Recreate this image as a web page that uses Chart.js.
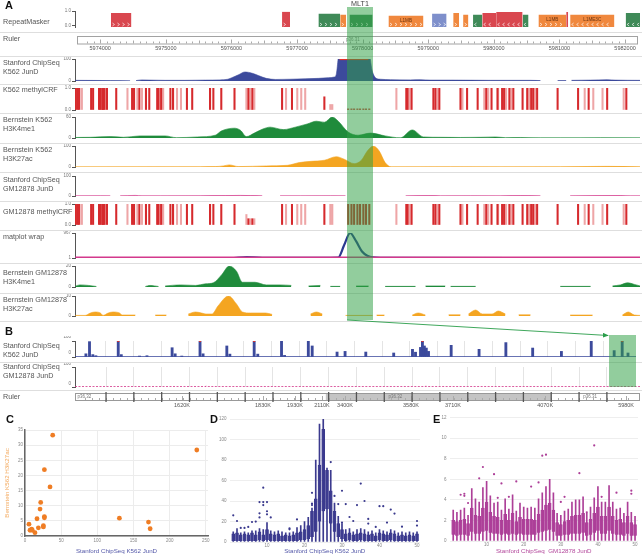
<!DOCTYPE html>
<html lang="en">
<head>
<meta charset="UTF-8">
<meta name="viewport" content="width=device-width, initial-scale=1.0">
<title>JunD and histone tracks around MLT1</title>
<script src="https://cdn.jsdelivr.net/npm/chart.js"></script>
<style>
  body { margin: 0; background: #fff; }
  #fig { position: relative; width: 642px; height: 556px; overflow: hidden; background: #fff;
         font-family: "Liberation Sans", Arial, Helvetica, sans-serif; }
  #fig > div { position: absolute; }
  .name { left: 3px; font-size: 7.2px; line-height: 9px; color: #555; white-space: nowrap; }
  .panel { font-size: 11px; line-height: 11px; font-weight: bold; color: #111; }
  .sep { left: 0; width: 642px; height: 1px; background: #dedede; }
</style>
</head>
<body>
<div id="fig"></div>

<script>
// ---------- panel A : chr1 window around the MLT1 repeat ----------
const regionA = [5973646, 5982197];
const mlt1 = [5977763, 5978156];
const mlt1Name = 'MLT1';
const rulerALabels = [5974000, 5975000, 5976000, 5977000, 5978000, 5979000, 5980000, 5981000, 5982000];
const aBandName = 'p36.31';
const aBandLabelAt = 5977850;

// RepeatMasker elements
const rmStart = [5974190, 5976780, 5977330, 5977660, 5977800, 5978390, 5979050, 5979370, 5979520, 5979670, 5979810, 5980020, 5980420, 5980660, 5981080, 5981140, 5981980];
const rmEnd   = [5974500, 5976900, 5977660, 5977750, 5978150, 5978920, 5979270, 5979460, 5979600, 5979810, 5980020, 5980420, 5980510, 5981080, 5981110, 5981810, 5982200];
const rmScore = [0.87, 0.94, 0.81, 0.74, 0.74, 0.68, 0.81, 0.87, 0.74, 0.74, 0.87, 0.94, 0.74, 0.74, 0.94, 0.74, 0.87];
const rmClass = ['SINE', 'SINE', 'LTR', 'LINE', 'LTR', 'LINE', 'DNA', 'LINE', 'LINE', 'LTR', 'SINE', 'SINE', 'LTR', 'LINE', 'SINE', 'LINE', 'LTR'];
const rmStrand = ['+', '+', '+', '+', '+', '+', '+', '+', '+', '-', '-', '-', '-', '+', '-', '-', '-'];
const rmLabel = ['', '', '', '', '', 'L1MB', '', '', '', '', '', '', '', 'L1MB', '', 'L1ME3C', ''];

// Stanford ChipSeq K562 JunD (values above 100 are clipped by the browser)
const k562JundPos = [5973650, 5974180, 5974480, 5974530, 5974570, 5974660, 5974780, 5975010, 5975310, 5975620, 5975840, 5975960, 5976020, 5976120, 5976220, 5976330, 5976420, 5976540, 5976680, 5976900, 5977130, 5977330, 5977480, 5977570, 5977600, 5977650, 5978085, 5978145, 5978205, 5978265, 5978420, 5978720, 5978870, 5979020, 5979330, 5979930, 5980540, 5980690, 5980700, 5980950, 5981080, 5981100, 5981160, 5981450, 5981700, 5981820, 5982200];
const k562JundVal = [3, 2, 1, null, 2, 5, 4, 3, 3, 4, 5, 8, 15, 28, 41, 35, 25, 12, 7, 8, 10, 12, 15, 18, 30, 140, 140, 45, 12, 8, 6, 5, 6, 4, 4, 3, 3, 2, null, 2, 2, null, 3, 4, 6, 4, 3];

// methylCRF CpG calls (same CpG sites in both cell lines)
const methylPos = [5973660, 5973670, 5973690, 5973710, 5973750, 5973890, 5973920, 5974010, 5974030, 5974040, 5974060, 5974070, 5974090, 5974100, 5974130, 5974270, 5974440, 5974510, 5974530, 5974540, 5974590, 5974620, 5974660, 5974720, 5974770, 5974890, 5974910, 5974940, 5974950, 5974980, 5975090, 5975130, 5975190, 5975250, 5975340, 5975420, 5975690, 5975740, 5975860, 5976060, 5976240, 5976270, 5976300, 5976330, 5976360, 5976780, 5976840, 5976930, 5977010, 5977070, 5977130, 5977420, 5977510, 5977540, 5977780, 5977830, 5977870, 5977920, 5977960, 5978010, 5978050, 5978100, 5978510, 5978660, 5978680, 5978710, 5978740, 5979070, 5979100, 5979130, 5979160, 5979480, 5979510, 5979580, 5979740, 5979840, 5979870, 5979900, 5979950, 5980040, 5980050, 5980110, 5980140, 5980170, 5980220, 5980250, 5980280, 5980420, 5980490, 5980520, 5980550, 5980580, 5980610, 5980640, 5980950, 5981260, 5981360, 5981420, 5981490, 5981630, 5981700, 5981950, 5981990];
const k562MethylVal = [1, 1, 1, 1, 1, 1, 1, 1, 1, 1, 1, 1, 1, 1, 1, 1, 1, 1, 1, 1, 1, 1, 1, 1, 1, 1, 1, 1, 1, 1, 1, 1, 1, 1, 1, 1, 1, 1, 1, 1, 1, 1, 1, 1, 1, 1, 1, 1, 1, 1, 1, 0.6, 0.25, 0.25, 0.05, 0.05, 0.05, 0.05, 0.05, 0.05, 0.05, 0.05, 1, 1, 1, 1, 1, 1, 1, 1, 1, 1, 1, 1, 1, 1, 1, 1, 1, 1, 1, 1, 1, 1, 1, 1, 1, 1, 1, 1, 1, 1, 1, 1, 1, 1, 1, 1, 1, 1, 1, 1, 1];
const gmMethylVal   = [1, 1, 1, 1, 1, 1, 1, 1, 1, 1, 1, 1, 1, 1, 1, 1, 1, 1, 1, 1, 1, 1, 1, 1, 1, 1, 1, 1, 1, 1, 1, 1, 1, 1, 1, 1, 1, 1, 1, 1, 0.5, 0.3, 0.3, 0.3, 0.3, 1, 1, 1, 1, 1, 1, 1, 1, 1, 1, 1, 1, 1, 1, 1, 1, 1, 1, 1, 1, 1, 1, 1, 1, 1, 1, 1, 1, 1, 1, 1, 1, 1, 1, 1, 1, 1, 1, 1, 1, 1, 1, 1, 1, 1, 1, 1, 1, 1, 1, 1, 1, 1, 1, 1, 1, 1, 1];

// Bernstein K562 H3K4me1
const k562K4Pos = [5973650, 5973880, 5974180, 5974380, 5974630, 5975010, 5975180, 5975500, 5975770, 5975860, 5976060, 5976150, 5976240, 5976360, 5976480, 5976600, 5976800, 5976980, 5977160, 5977300, 5977420, 5977540, 5977630, 5977780, 5977930, 5978120, 5978340, 5978570, 5978750, 5978920, 5979180, 5979480, 5979780, 5980010, 5980160, 5980390, 5980690, 5980990, 5981290, 5981600, 5982200];
const k562K4Val = [1.5, 2, 4, 2, 6, 6, 1, 3, 8, 20, 28, 22, 4, 14, 25, 31, 24, 31, 40, 48, 45, 60, 48, 17, 8, 14, 6, 0.5, 23, 3, 2, 1.5, 2, 3, 1, 1.5, 0.5, 0.5, 0.5, 1, 0.5];

// Bernstein K562 H3K27ac
const k562K27Pos = [5973650, 5975540, 5975770, 5975890, 5975980, 5976120, 5976540, 5976860, 5977040, 5977220, 5977420, 5977600, 5977720, 5977870, 5977980, 5978070, 5978160, 5978250, 5978340, 5978430, 5979330, 5980080, 5980990, 5981700, 5982200];
const k562K27Val = [1, 1.5, 2, 5, 10, 2, 5, 8, 21, 27, 32, 49, 37, 16, 32, 76, 100, 76, 21, 1, 1.5, 1, 1.5, 3, 1.5];

// Stanford ChipSeq GM12878 JunD
const gmJundPos = [5973650, 5974030, 5974180, 5974210, 5974330, 5974560, 5974660, 5974940, 5975540, 5975920, 5976150, 5976300, 5976480, 5976600, 5976750, 5977060, 5977510, 5977740, 5978570, 5978650, 5979020, 5979180, 5979630, 5980080, 5980390, 5980690, 5980990, 5981140, 5981900, 5982050, 5982200];
const gmJundVal = [1, 1.5, 1, null, 1, 3, 1, 1, 1.5, 2, 3, 2, 1, null, 1, 1, 1.5, 1, null, 1, 2, 1, 1.5, 1, 2, 1, null, 1, 2.5, 1, 1];

// matplot wrap: K562 JunD vs GM12878 JunD
const wrapK562Pos = [5973650, 5976000, 5976240, 5976480, 5977360, 5977630, 5977720, 5977810, 5977900, 5977990, 5978070, 5978160, 5978420, 5982200];
const wrapK562Val = [1, 1, 40, 5, 10, 20, 500, 967, 650, 250, 90, 30, 5, 1];
const wrapGmPos = [5973650, 5982200];
const wrapGmVal = [1, 1];

// Bernstein GM12878 H3K4me1
const gmK4Pos = [5973650, 5973720, 5973850, 5973970, 5974030, 5974710, 5974780, 5974910, 5974970, 5975010, 5975240, 5975470, 5975620, 5975740, 5975870, 5975980, 5976090, 5976180, 5976370, 5976540, 5976750, 5976920, 5976950, 5977180, 5977360, 5977390, 5977510, 5977660, 5977690, 5977900, 5978090, 5978120, 5978340, 5978800, 5978830, 5978950, 5979250, 5979280, 5979330, 5979710, 5979740, 5980990, 5981450, 5981480, 5981780, 5981900, 5982010, 5982110, 5982200];
const gmK4Val = [0.8, 2, 1.5, 0.5, null, 0.5, 1.5, 0.5, null, 1, 2, 1.5, 3, 4, 12, 20, 15, 4.5, 4.5, 2, 2, 1.5, null, 1, 1.5, null, 0.6, 0.6, null, 1, 1, null, 0.6, 0.6, null, 1, 1, null, 0.6, 0.6, null, 0.6, 0.6, null, 1, 2, 4, 2.5, 1];

// Bernstein GM12878 H3K27ac
const gmK27Pos = [5973650, 5973800, 5973880, 5973950, 5974030, 5974070, 5974150, 5974220, 5974320, 5974360, 5974560, 5974590, 5974860, 5975030, 5975060, 5975360, 5975470, 5975560, 5975630, 5975720, 5975810, 5975970, 5976090, 5976180, 5976300, 5976530, 5976630, 5976660, 5977210, 5977300, 5977390, 5977450, 5977740, 5978150, 5978180, 5978210, 5978330, 5978360, 5978750, 5978840, 5978950, 5978980, 5979300, 5979480, 5979510, 5979600, 5979710, 5979810, 5979960, 5980050, 5980160, 5980190, 5980360, 5980540, 5980570, 5981140, 5981480, 5981510, 5981930, 5982020, 5982110, 5982200];
const gmK27Val = [0.3, 0.3, 1.5, 2, 1.5, 0.3, 1.5, 2, 1.5, 0.5, 0.5, null, 0.5, 0.5, null, 1, 2, 1.5, 1, 1, 5, 10, 6, 2, 1.5, 1.5, 0.8, null, 1, 2, 1, null, 0.3, 0.3, null, 0.5, 0.5, null, 0.5, 1.5, 0.5, null, 0.6, 0.6, null, 1, 3, 1, 1, 2.5, 1, null, 0.6, 0.6, null, 0.5, 0.5, null, 0.5, 2, 0.5, 0.3];

// ---------- panel B : 20 concatenated JunD peak regions ----------
const regionB = [-0.115, 20.19];
const bBounds = [1, 2, 3, 4, 5, 6, 7, 8, 9, 10, 11, 12, 13, 14, 15, 16, 17, 18, 19];
const bHighlight = [19.22, 20.19];
const bK562Pos = [0.28, 0.41, 0.53, 0.64, 1.45, 1.56, 2.22, 2.49, 3.40, 3.51, 3.75, 4.41, 4.52, 5.38, 5.49, 6.37, 6.50, 7.36, 7.47, 8.33, 8.47, 9.37, 9.66, 10.41, 11.42, 12.10, 12.21, 12.39, 12.46, 12.53, 12.60, 12.68, 13.50, 14.51, 15.48, 16.45, 17.49, 18.57, 19.40, 19.69, 19.90];
const bK562Val = [20, 96, 15, 8, 130, 15, 6, 8, 58, 20, 6, 130, 20, 69, 18, 130, 18, 99, 10, 100, 69, 31, 35, 31, 25, 48, 30, 60, 130, 69, 56, 35, 73, 48, 90, 56, 35, 99, 40, 130, 25];
const bK562BasePos = [-0.115, 20.19];
const bK562BaseVal = [2.5, 2.5];
const bGmPos = [-0.115, 4.55, 4.6, 4.65, 12.45, 12.5, 12.55, 19.55, 19.6, 19.65, 20.19];
const bGmVal = [1.5, 1.5, 4, 1.5, 1.5, 4, 1.5, 1.5, 3, 1.5, 1.5];
const bRulerPos  = [3.73, 6.64, 7.79, 8.76, 9.59, 11.96, 13.47, 16.78, 19.69];
const bRulerText = ['1620K', '1830K', '1930K', '2110K', '3400K', '3580K', '3710K', '4070K', '5980K'];
const bBandStart = [-0.115, 8.9, 17.0];
const bBandEnd   = [8.9, 17.0, 20.19];
const bBandName  = ['p36.32', 'p36.32', 'p36.31'];
const bBandStain = ['gneg', 'gpos25', 'gneg'];
const bBandLabelAt = [0.22, 11.4, 18.4];

// ---------- panel C : K562 JunD vs K562 H3K27ac ----------
const cX = [38.3, 237.5, 26.8, 34.6, 21.7, 20.8, 26.8, 26.8, 16.6, 130.5, 170.7, 173, 5.5, 25.4, 25.4, 18.5, 9.2, 6.9, 10.1, 13.8];
const cY = [33.3, 28.4, 21.9, 16.2, 11.1, 8.9, 6.4, 6.0, 5.7, 5.9, 4.6, 2.4, 3.9, 3.4, 3.0, 2.7, 2.3, 1.9, 1.9, 1.1];
const cXTicks = [0, 50, 100, 150, 200, 250];
const cYTicks = [0, 5, 10, 15, 20, 25, 30, 35];

// ---------- panels D and E : binned box plots ----------
const bins = [1, 2, 3, 4, 5, 6, 7, 8, 9, 10, 11, 12, 13, 14, 15, 16, 17, 18, 19, 20, 21, 22, 23, 24, 25, 26, 27, 28, 29, 30, 31, 32, 33, 34, 35, 36, 37, 38, 39, 40, 41, 42, 43, 44, 45, 46, 47, 48, 49, 50];
const binTicks = [10, 20, 30, 40, 50];
const dYTicks = [0, 20, 40, 60, 80, 100, 120];
const dQ1 = [1, 1, 1, 1, 1, 1, 1, 2, 1, 2, 1, 1, 1, 1, 1, 1, 1, 1, 2, 2, 3, 5, 10, 20, 30, 32, 18, 10, 5, 3, 1, 2, 1, 1, 2, 1, 1, 1, 1, 2, 1, 1, 2, 1, 1, 1, 1, 1, 1, 1];
const dQ3 = [8, 9, 7, 8, 7, 9, 7, 10, 7, 12, 8, 7, 8, 6, 7, 6, 7, 9, 10, 12, 16, 30, 42, 75, 110, 70, 50, 30, 18, 12, 8, 9, 7, 8, 9, 8, 7, 8, 6, 9, 8, 7, 9, 8, 6, 7, 6, 7, 6, 8];
const dHi = [10, 13, 9, 10, 9, 11, 11, 13, 12, 19, 11, 10, 11, 10, 9, 9, 10, 14, 16, 20, 24, 33, 80, 115, 120, 72, 70, 38, 25, 18, 12, 13, 10, 12, 13, 12, 10, 11, 9, 12, 11, 10, 12, 11, 9, 10, 9, 10, 9, 10];
const dOutX = [1, 2, 3, 4, 5, 6, 7, 8, 8, 8, 9, 9, 9, 10, 10, 10, 11, 16, 16, 18, 22, 22, 22, 27, 28, 29, 30, 30, 31, 32, 33, 34, 35, 36, 37, 37, 39, 40, 41, 42, 43, 44, 46, 50, 50];
const dOutY = [26, 20.5, 13.7, 13.7, 14.7, 19.5, 19.9, 28, 24, 39, 53, 39, 36, 39, 30, 27, 24, 13.4, 12.4, 22, 48, 37.5, 36, 78, 45, 37, 50, 19, 37, 24.4, 20.5, 36, 57, 40, 22.5, 18, 14.7, 35, 35, 19, 31.6, 27.7, 15, 20.5, 16];
const eYTicks = [0, 2, 4, 6, 8, 10, 12];
const eQ1 = [0.6, 0.5, 0.6, 0.6, 0.5, 0.9, 0.7, 0.7, 0.9, 1.0, 0.8, 0.7, 0.7, 0.6, 0.7, 0.6, 0.7, 0.6, 0.7, 0.6, 0.6, 0.6, 0.6, 0.8, 0.9, 1.0, 1.1, 0.9, 0.5, 0.5, 0.6, 0.6, 0.7, 0.7, 0.7, 0.8, 0.5, 0.6, 0.8, 1.0, 0.7, 0.7, 1.0, 0.7, 0.6, 0.6, 0.5, 0.7, 0.5, 0.5];
const eQ3 = [2.0, 1.9, 2.0, 2.1, 1.7, 3.2, 2.5, 2.4, 3.2, 3.8, 2.8, 2.4, 2.3, 2.0, 2.6, 2.0, 2.7, 1.9, 2.3, 2.1, 2.1, 2.1, 2.0, 2.6, 3.0, 3.5, 3.7, 3.0, 1.8, 1.6, 1.9, 2.0, 2.4, 2.5, 2.5, 2.7, 1.8, 2.1, 2.7, 3.3, 2.4, 2.4, 3.3, 2.4, 2.0, 2.1, 1.8, 2.4, 1.8, 1.6];
const eHi = [3.0, 2.8, 3.0, 3.2, 2.5, 5.1, 4.1, 3.8, 5.2, 5.8, 4.4, 3.7, 3.8, 3.0, 4.1, 3.1, 4.5, 2.9, 3.7, 3.3, 3.2, 3.3, 3.2, 4.1, 4.7, 5.3, 6.0, 4.7, 2.7, 2.5, 2.9, 3.1, 3.8, 4.0, 4.0, 4.3, 2.7, 3.3, 4.2, 5.3, 3.8, 3.8, 5.4, 3.8, 3.1, 3.2, 2.7, 3.8, 2.8, 2.4];
const eOutX = [3, 4, 4, 5, 8, 9, 12, 13, 14, 16, 18, 22, 24, 25, 26, 30, 31, 35, 37, 39, 41, 45, 49, 49];
const eOutY = [4.5, 4.6, 4.4, 3.7, 6.1, 7.2, 6.5, 4.2, 5.6, 4.3, 5.8, 5.3, 5.7, 8.3, 8.4, 3.8, 4.3, 6.6, 2.8, 9.3, 4.3, 4.7, 4.9, 4.6];

// track names
const namesA = [['RepeatMasker'], ['Ruler'], ['Stanford ChipSeq', 'K562 JunD'], ['K562 methylCRF'], ['Bernstein K562', 'H3K4me1'], ['Bernstein K562', 'H3K27ac'], ['Stanford ChipSeq', 'GM12878 JunD'], ['GM12878 methylCRF'], ['matplot wrap'], ['Bernstein GM12878', 'H3K4me1'], ['Bernstein GM12878', 'H3K27ac']];
const namesB = [['Stanford ChipSeq', 'K562 JunD'], ['Stanford ChipSeq', 'GM12878 JunD'], ['Ruler']];

// ---------- styles / layout ----------
const colJundK = '#3c4a9c', colJundGm = '#d3398c', colK4 = '#1f8b3b', colK27 = '#f4a521';
const colMethyl = '#d62a2d', colMethylLight = 'rgba(214,42,45,0.42)', colClip = '#e3312b';
const rmColors = { SINE: '#d9474f', LTR: '#3f8a58', LINE: '#f0883e', DNA: '#7e8fcb' };
const stainColors = { gneg: '#ffffff', gpos25: '#c4c4c4' };
const methylShade = [1, 0, 1, 1, 0, 1, 1, 1, 1, 0, 1, 1, 1, 0, 1, 1, 0, 1, 0, 1, 0, 1, 0, 1, 1, 1, 1, 0, 1, 0, 1, 1, 0, 0, 1, 1, 1, 1, 1, 1, 0, 1, 0, 1, 0, 1, 0, 1, 0, 0, 0, 1, 0, 0, 1, 1, 1, 1, 1, 1, 1, 1, 0, 1, 1, 0, 1, 1, 1, 0, 1, 1, 0, 1, 1, 0, 1, 0, 1, 1, 0, 1, 1, 0, 1, 0, 1, 1, 1, 0, 1, 1, 0, 1, 1, 1, 0, 1, 0, 0, 1, 0, 1];
const greenHi = 'rgba(46,160,67,0.52)';
const TRACK_X = 45, AXIS_W = 30, PAD = 5;
const rowsA = { rm: [11, 27], jund: [59, 81], methyl: [88, 110], k4: [117, 138], k27: [146, 167],
                gmJund: [176, 196], gmMethyl: [204, 225], wrap: [233, 258], gmK4: [266, 287], gmK27: [296, 316] };
const rowsB = { k562: [341, 357], gm: [367, 387] };
const nameTopsA = [16.5, 33.5, 57.5, 84.5, 114.5, 144.5, 174.5, 206.5, 231.5, 267.5, 294.5];
const nameTopsB = [340.5, 361.5, 391.5];
const sepRows = [32, 56, 84, 113, 143, 172, 201, 230, 263, 293, 321, 362, 390];

Chart.defaults.font.family = '"Liberation Sans", Arial, Helvetica, sans-serif';
Chart.defaults.color = '#777';

const fig = document.getElementById('fig');

function addDiv(cls, left, top, html) {
  const d = document.createElement('div');
  d.className = cls;
  d.style.left = left + 'px';
  d.style.top = top + 'px';
  d.innerHTML = html;
  fig.appendChild(d);
  return d;
}

function addCanvas(left, top, w, h) {
  const d = document.createElement('div');
  d.style.cssText = `left:${left}px;top:${top}px;width:${w}px;height:${h}px`;
  const c = document.createElement('canvas');
  c.width = w; c.height = h;
  c.style.width = w + 'px'; c.style.height = h + 'px';
  d.appendChild(c);
  fig.appendChild(d);
  return c;
}

function pairs(xs, ys) { return xs.map((x, i) => ({ x: x, y: ys[i] })); }

function area(xs, ys, color) {
  return { data: pairs(xs, ys), borderColor: color, backgroundColor: color, borderWidth: 0.6, pointRadius: 0,
           fill: 'origin', cubicInterpolationMode: 'monotone', spanGaps: false };
}
function trace(xs, ys, color, width, order) {
  return { data: pairs(xs, ys), borderColor: color, borderWidth: width, pointRadius: 0, fill: false,
           cubicInterpolationMode: 'monotone', spanGaps: false, order: order || 0 };
}
function sticks(xs, ys, colors, thickness) {
  return { type: 'bar', data: pairs(xs, ys), backgroundColor: colors, barThickness: thickness, grouped: false, borderWidth: 0 };
}

const xA = () => ({ type: 'linear', min: regionA[0], max: regionA[1], offset: false, display: false });
const xB = () => ({
  type: 'linear', min: regionB[0], max: regionB[1], offset: false, display: true,
  border: { display: false }, grid: { color: '#e4e4e4', drawTicks: false, offset: false }, ticks: { display: false },
  afterBuildTicks: s => { s.ticks = bBounds.map(v => ({ value: v })); },
  afterFit: s => { s.height = 0; }
});

function track(rows, xScale, yMin, yMax, yTicks, yText, datasets, more) {
  more = more || {};
  const cv = addCanvas(TRACK_X, rows[0] - PAD, 640 - TRACK_X, rows[1] - rows[0] + 2 * PAD);
  return new Chart(cv, {
    type: 'line',
    data: { datasets: datasets },
    options: {
      responsive: false, animation: false, events: [],
      layout: { padding: { top: PAD, bottom: PAD, left: 0, right: 0 } },
      plugins: { legend: { display: false }, tooltip: { enabled: false } },
      scales: {
        x: xScale,
        y: {
          type: 'linear', min: yMin, max: yMax,
          border: { display: true, color: '#555', width: 1 },
          grid: { drawOnChartArea: false, drawTicks: true, tickLength: 3, color: '#555' },
          ticks: { font: { size: 4.5 }, color: '#777', padding: 1, labelOffset: more.labelOffset || 0,
                   callback: (v, i) => yText[i] },
          afterBuildTicks: s => { s.ticks = yTicks.map(v => ({ value: v })); },
          afterFit: s => { s.width = AXIS_W; }
        }
      }
    },
    plugins: more.plugins || []
  });
}

// RepeatMasker strand chevrons and names
const rmMarks = {
  id: 'rmMarks',
  afterDatasetsDraw(chart) {
    const { ctx, scales: { x, y } } = chart;
    const yb = y.getPixelForValue(y.min);
    ctx.save();
    rmStart.forEach((s, i) => {
      const x0 = x.getPixelForValue(s), x1 = x.getPixelForValue(rmEnd[i]);
      const dir = rmStrand[i] === '+' ? 1 : -1;
      ctx.strokeStyle = 'rgba(255,255,255,0.95)';
      ctx.lineWidth = 0.7;
      for (let cx = x0 + 2.5; cx <= x1 - 2; cx += 5) {
        ctx.beginPath();
        ctx.moveTo(cx - dir, yb - 4);
        ctx.lineTo(cx + dir, yb - 2.5);
        ctx.lineTo(cx - dir, yb - 1);
        ctx.stroke();
      }
      if (rmLabel[i]) {
        ctx.fillStyle = '#6a3410';
        ctx.font = '4.6px "Liberation Sans", Arial';
        ctx.textAlign = 'center';
        ctx.textBaseline = 'middle';
        ctx.fillText(rmLabel[i], (x0 + x1) / 2, y.getPixelForValue(rmScore[i] * 0.55));
      }
    });
    ctx.restore();
  }
};

// ruler for panel A: box with 100 bp ticks
const rulerAMarks = {
  id: 'rulerAMarks',
  afterDraw(chart) {
    const { ctx, chartArea: a, scales: { x } } = chart;
    ctx.save();
    ctx.strokeStyle = '#a2a2a2';
    ctx.lineWidth = 1;
    ctx.strokeRect(a.left + 0.5, a.top + 0.5, a.right - a.left - 1, a.bottom - a.top);
    ctx.strokeStyle = '#aaa';
    x.ticks.forEach(t => {
      if (t.value <= x.min || t.value >= x.max) return;
      const px = Math.round(x.getPixelForValue(t.value)) + 0.5;
      const len = t.value % 1000 === 0 ? 4 : (t.value % 500 === 0 ? 3 : 2);
      ctx.beginPath(); ctx.moveTo(px, a.bottom); ctx.lineTo(px, a.bottom - len); ctx.stroke();
    });
    ctx.fillStyle = '#888';
    ctx.font = '4.5px "Liberation Sans", Arial';
    ctx.textAlign = 'center';
    ctx.textBaseline = 'middle';
    ctx.fillText(aBandName, x.getPixelForValue(aBandLabelAt), a.top + 4);
    ctx.restore();
  }
};

// ruler for panel B: cytobands, region boundaries, labelled positions
const rulerBMarks = {
  id: 'rulerBMarks',
  afterDraw(chart) {
    const { ctx, chartArea: a, scales: { x } } = chart;
    ctx.save();
    bBandStart.forEach((s, i) => {
      const x0 = x.getPixelForValue(s), x1 = x.getPixelForValue(bBandEnd[i]);
      ctx.fillStyle = stainColors[bBandStain[i]];
      ctx.fillRect(x0, a.top, x1 - x0, a.bottom - a.top);
    });
    ctx.strokeStyle = '#999';
    ctx.lineWidth = 1;
    ctx.strokeRect(a.left + 0.5, a.top + 0.5, a.right - a.left - 1, a.bottom - a.top);
    ctx.strokeStyle = '#aaa';
    x.ticks.forEach(t => {
      const px = Math.round(x.getPixelForValue(t.value)) + 0.5;
      ctx.beginPath(); ctx.moveTo(px, a.bottom); ctx.lineTo(px, a.bottom - (t.label ? 4 : 2)); ctx.stroke();
    });
    ctx.strokeStyle = '#555';
    ctx.lineWidth = 1.3;
    bBounds.forEach(b => {
      const px = x.getPixelForValue(b);
      ctx.beginPath(); ctx.moveTo(px, a.top - 1); ctx.lineTo(px, a.bottom + 2); ctx.stroke();
    });
    ctx.fillStyle = '#777';
    ctx.font = '4.5px "Liberation Sans", Arial';
    ctx.textAlign = 'center';
    ctx.textBaseline = 'middle';
    bBandName.forEach((n, i) => ctx.fillText(n, x.getPixelForValue(bBandLabelAt[i]), (a.top + a.bottom) / 2));
    ctx.restore();
  }
};

// ---------- build panel A ----------
track(rowsA.rm, xA(), -0.08, 1, [0, 1], ['0.0', '1.0'],
  rmStart.map((s, i) => ({
    data: [{ x: s, y: rmScore[i] }, { x: rmEnd[i], y: rmScore[i] }],
    borderWidth: 0, pointRadius: 0, fill: 'start', backgroundColor: rmColors[rmClass[i]]
  })), { plugins: [rmMarks] });

new Chart(addCanvas(75, 34, 565, 22), {
  type: 'line',
  data: { datasets: [] },
  options: {
    responsive: false, animation: false, events: [],
    layout: { padding: { top: 2, bottom: 0, left: 0, right: 0 } },
    plugins: { legend: { display: false }, tooltip: { enabled: false } },
    scales: {
      x: { type: 'linear', min: regionA[0], max: regionA[1], offset: false,
           grid: { display: false, drawTicks: false }, border: { display: false },
           ticks: { stepSize: 100, autoSkip: false, maxRotation: 0, font: { size: 5.5 }, color: '#555', padding: 2,
                    callback: v => rulerALabels.includes(v) ? String(v) : '' },
           afterFit: s => { s.height = 12.5; } },
      y: { display: false, min: 0, max: 1 }
    }
  },
  plugins: [rulerAMarks]
});

const jundChart = track(rowsA.jund, xA(), 0, 100, [0, 100], ['0', '100'], [
  trace(k562JundPos, k562JundVal.map(v => (v !== null && v > 100) ? 100 : null), colClip, 2.2),
  area(k562JundPos, k562JundVal, colJundK)
]);

track(rowsA.methyl, xA(), 0, 1, [0, 1], ['0.0', '1.0'],
  [sticks(methylPos, k562MethylVal, methylShade.map(s => s ? colMethyl : colMethylLight), 1.4)]);

track(rowsA.k4, xA(), 0, 60, [0, 60], ['0', '60'], [area(k562K4Pos, k562K4Val, colK4)]);
track(rowsA.k27, xA(), 0, 100, [0, 100], ['0', '100'], [area(k562K27Pos, k562K27Val, colK27)]);
track(rowsA.gmJund, xA(), 0, 100, [0, 100], ['0', '100'], [area(gmJundPos, gmJundVal, colJundGm)]);
track(rowsA.gmMethyl, xA(), 0, 1, [0, 1], ['0.0', '1.0'],
  [sticks(methylPos, gmMethylVal, methylShade.map(s => s ? colMethyl : colMethylLight), 1.4)]);
track(rowsA.wrap, xA(), 1, 967, [1, 967], ['1', '967'], [
  trace(wrapGmPos, wrapGmVal, colJundGm, 3, 0),
  trace(wrapK562Pos, wrapK562Val, '#2b3990', 2.2, 1)
]);
track(rowsA.gmK4, xA(), 0, 20, [0, 20], ['0', '20'], [area(gmK4Pos, gmK4Val, colK4)]);
track(rowsA.gmK27, xA(), 0, 10, [0, 10], ['0', '10'], [area(gmK27Pos, gmK27Val, colK27)]);

// ---------- build panel B ----------
const bChart = track(rowsB.k562, xB(), 0, 100, [0, 100], ['0', '100'], [
  { data: bK562Pos.map((x, i) => bK562Val[i] > 100 ? { x: x, y: 100 } : null).filter(p => p),
    showLine: false, pointStyle: 'rect', pointRadius: 1.4, backgroundColor: colClip, borderWidth: 0 },
  sticks(bK562Pos, bK562Val, colJundK, 2.2),
  area(bK562BasePos, bK562BaseVal, colJundK)
], { labelOffset: -4 });

track(rowsB.gm, xB(), 0, 100, [0, 100], ['0', '100'], [
  Object.assign(trace(bGmPos, bGmVal, colJundGm, 1), { borderDash: [2, 1.5], cubicInterpolationMode: 'default', tension: 0 })
], { labelOffset: -3 });

new Chart(addCanvas(75, 391, 565, 20), {
  type: 'line',
  data: { datasets: [] },
  options: {
    responsive: false, animation: false, events: [],
    layout: { padding: { top: 2, bottom: 0, left: 0, right: 0 } },
    plugins: { legend: { display: false }, tooltip: { enabled: false } },
    scales: {
      x: { type: 'linear', min: regionB[0], max: regionB[1], offset: false,
           grid: { display: false, drawTicks: false }, border: { display: false },
           ticks: { stepSize: 0.25, autoSkip: false, maxRotation: 0, font: { size: 5.5 }, color: '#555', padding: 2.5,
                    callback: (v, i, ticks) => ticks[i].label || '' },
           afterBuildTicks: s => {
             const minor = s.ticks.filter(t => t.value > s.min && t.value < s.max).map(t => ({ value: t.value }));
             s.ticks = minor.concat(bRulerPos.map((v, i) => ({ value: v, label: bRulerText[i] })))
                            .sort((p, q) => p.value - q.value);
           },
           afterFit: s => { s.height = 11; } },
      y: { display: false, min: 0, max: 1 }
    }
  },
  plugins: [rulerBMarks]
});

// ---------- panel C ----------
new Chart(addCanvas(0, 420, 212, 136), {
  type: 'scatter',
  data: { datasets: [{ data: pairs(cX, cY), backgroundColor: '#ef7d24', borderWidth: 0, pointRadius: 2.4 }] },
  options: {
    responsive: false, animation: false, events: [],
    layout: { padding: { top: 10, right: 4, left: 0, bottom: 0 } },
    plugins: { legend: { display: false }, tooltip: { enabled: false } },
    scales: {
      x: { type: 'linear', min: 0, max: 253,
           afterBuildTicks: s => { s.ticks = cXTicks.map(v => ({ value: v })); },
           grid: { color: '#ececec', drawTicks: false }, border: { color: '#666', width: 1.5 },
           ticks: { font: { size: 4.5 }, color: '#888', padding: 2, maxRotation: 0 },
           title: { display: true, text: 'Stanford ChipSeq K562 JunD', color: '#5559a9', font: { size: 6.2 }, padding: { top: 0, bottom: 1 } },
           afterFit: s => { s.height = 20; } },
      y: { type: 'linear', min: 0, max: 35,
           afterBuildTicks: s => { s.ticks = cYTicks.map(v => ({ value: v })); },
           grid: { color: '#ececec', drawTicks: false }, border: { color: '#666', width: 1.5 },
           ticks: { font: { size: 4.5 }, color: '#888', padding: 2 },
           title: { display: true, text: 'Bernstein K562 H3K27ac', color: '#f3a85c', font: { size: 6.2 }, padding: { top: 4, bottom: 0 } },
           afterFit: s => { s.width = 25; } }
    }
  }
});

// ---------- panels D and E ----------
function boxPanel(left, top, w, h, padTop, padRight, yW, xH, yMax, yTicks, q1, q3, hi, outX, outY, color, boxColor, title) {
  return new Chart(addCanvas(left, top, w, h), {
    type: 'bar',
    data: { datasets: [
      { type: 'scatter', data: pairs(outX, outY), backgroundColor: color, borderWidth: 0, pointRadius: 1.1, order: 0 },
      { data: bins.map((b, i) => ({ x: b, y: [q1[i], q3[i]] })), backgroundColor: boxColor, borderColor: color, borderWidth: 0.5, barThickness: 3, grouped: false, order: 1 },
      { data: bins.map((b, i) => ({ x: b, y: [0, hi[i]] })), backgroundColor: color, barThickness: 1, grouped: false, order: 2 }
    ] },
    options: {
      responsive: false, animation: false, events: [],
      layout: { padding: { top: padTop, right: padRight, left: 0, bottom: 0 } },
      plugins: { legend: { display: false }, tooltip: { enabled: false } },
      scales: {
        x: { type: 'linear', min: 0, max: 50.8, offset: false,
             afterBuildTicks: s => { s.ticks = binTicks.map(v => ({ value: v })); },
             grid: { display: false, drawTicks: false }, border: { display: false },
             ticks: { font: { size: 4.5 }, color: '#888', padding: 1, maxRotation: 0 },
             title: { display: true, text: title[0], color: title[1], font: { size: 6.2 }, padding: { top: 0, bottom: 1 } },
             afterFit: s => { s.height = xH; } },
        y: { type: 'linear', min: 0, max: yMax,
             afterBuildTicks: s => { s.ticks = yTicks.map(v => ({ value: v })); },
             grid: { color: '#eeeeee', drawTicks: false }, border: { display: false },
             ticks: { font: { size: 4.5 }, color: '#888', padding: 3 },
             afterFit: s => { s.width = yW; } }
      }
    }
  });
}

boxPanel(210, 412, 215, 144, 7, 5, 19.5, 14, 120, dYTicks, dQ1, dQ3, dHi, dOutX, dOutY,
  '#3b3a8e', 'rgba(59,58,142,0.85)', ['Stanford ChipSeq K562 JunD', '#5559a9']);
boxPanel(428, 412, 214, 144, 4, 2, 21.5, 15, 12, eYTicks, eQ1, eQ3, eHi, eOutX, eOutY,
  '#ad3f98', 'rgba(173,63,152,0.8)', ['Stanford ChipSeq  GM12878 JunD', '#b3489c']);

// ---------- text, separators, highlights ----------
sepRows.forEach(y => addDiv('sep', 0, y, ''));
namesA.forEach((n, i) => addDiv('name', 3, nameTopsA[i], n.join('<br>')));
namesB.forEach((n, i) => addDiv('name', 3, nameTopsB[i], n.join('<br>')));
addDiv('panel', 5, 0, 'A');
addDiv('panel', 5, 326, 'B');
addDiv('panel', 6, 414, 'C');
addDiv('panel', 210, 414, 'D');
addDiv('panel', 433, 414, 'E');

const ax = jundChart.scales.x;
const bandL = TRACK_X + ax.getPixelForValue(mlt1[0]);
const bandR = TRACK_X + ax.getPixelForValue(mlt1[1]);
const bx = bChart.scales.x;
const boxL = TRACK_X + bx.getPixelForValue(bHighlight[0]);
const boxR = TRACK_X + bx.getPixelForValue(bHighlight[1]);

const band = addDiv('', bandL, 7, '');
Object.assign(band.style, { width: (bandR - bandL) + 'px', height: '313px', background: greenHi });
const bBox = addDiv('', boxL, 335, '');
Object.assign(bBox.style, { width: (boxR - boxL) + 'px', height: '52px', background: greenHi });
const tag = addDiv('', bandL - 10, -1, mlt1Name);
Object.assign(tag.style, { width: (bandR - bandL + 20) + 'px', textAlign: 'center', fontSize: '7.2px', color: '#444' });

const svgNS = 'http://www.w3.org/2000/svg';
const svg = document.createElementNS(svgNS, 'svg');
svg.setAttribute('width', '642');
svg.setAttribute('height', '556');
svg.style.cssText = 'position:absolute;left:0;top:0;pointer-events:none';
svg.innerHTML =
  '<defs><marker id="ah" markerWidth="6" markerHeight="5" refX="5.5" refY="2.5" orient="auto" markerUnits="userSpaceOnUse">' +
  '<path d="M0,0 L6,2.5 L0,5 z" fill="#2a9d4a"/></marker></defs>' +
  `<line x1="${bandL}" y1="320" x2="${boxL - 1}" y2="335.5" stroke="#2a9d4a" stroke-width="0.9" marker-end="url(#ah)"/>`;
fig.appendChild(svg);
</script>
</body>
</html>
